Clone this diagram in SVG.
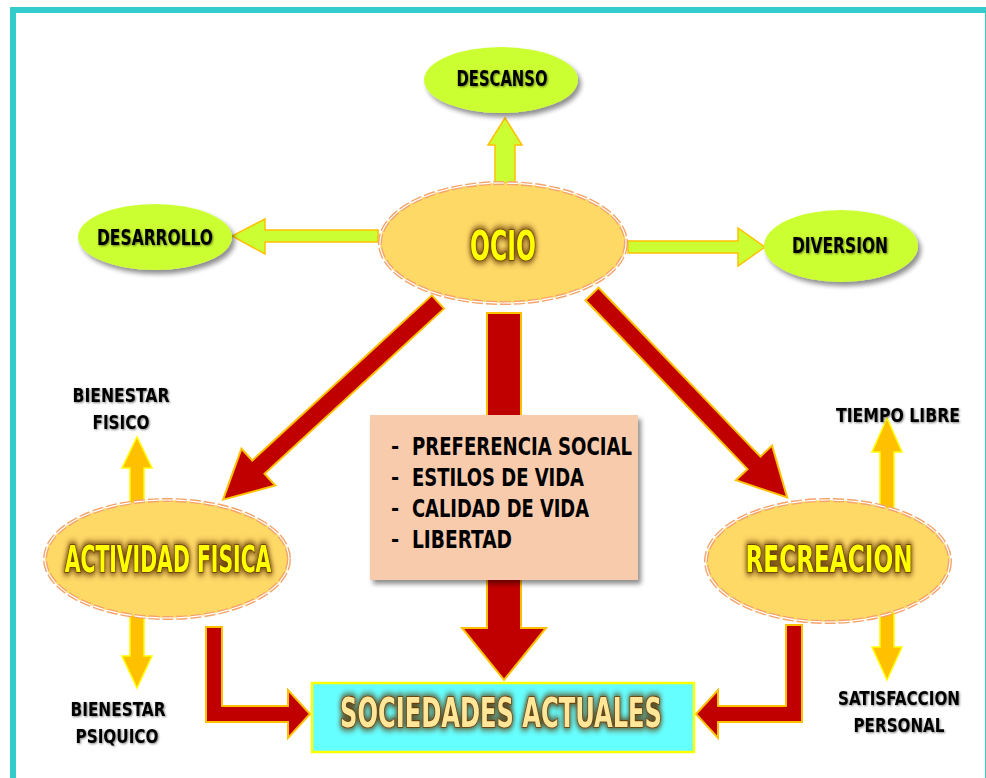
<svg xmlns="http://www.w3.org/2000/svg" width="986" height="778" viewBox="0 0 986 778">
<defs>
<style>
.lbl{font-family:"Liberation Sans Narrow","DejaVu Sans Condensed","Liberation Sans",sans-serif;font-weight:bold;fill:#000;text-anchor:middle}
.head{font-family:"Liberation Sans Narrow","DejaVu Sans Condensed","Liberation Sans",sans-serif;font-weight:bold;text-anchor:middle;stroke:#6B3A00;stroke-width:1.6;paint-order:stroke}
.list{font-family:"Liberation Sans Narrow","DejaVu Sans Condensed","Liberation Sans",sans-serif;font-weight:bold;fill:#000;font-size:25px}
.bul{font-family:"Liberation Sans Narrow","DejaVu Sans Condensed","Liberation Sans",sans-serif;font-weight:bold;fill:#000;font-size:22px}
.green{fill:#CCFF33}
.garrow{fill:#CCFF33;stroke:#FFC000;stroke-width:1.5}
.red{fill:#C00000;stroke:#FFC000;stroke-width:2;stroke-linejoin:miter}
.yel{fill:#FFC000;stroke:#FFFF00;stroke-width:1.5}
.ell{fill:#FFD966}
.dash1{fill:none;stroke:#F4A46A;stroke-width:4;stroke-dasharray:11 3}
.dash2{fill:none;stroke:#FFFFFF;stroke-width:1.2;stroke-dasharray:11 3}
</style>
<filter id="sh" x="-20%" y="-20%" width="150%" height="160%">
<feGaussianBlur in="SourceAlpha" stdDeviation="2.5"/>
<feOffset dx="3" dy="4" result="b"/>
<feComponentTransfer><feFuncA type="linear" slope="0.45"/></feComponentTransfer>
<feMerge><feMergeNode/><feMergeNode in="SourceGraphic"/></feMerge>
</filter>
<filter id="glow" x="-20%" y="-40%" width="140%" height="180%">
<feMorphology in="SourceAlpha" operator="dilate" radius="2" result="d"/>
<feGaussianBlur in="d" stdDeviation="3" result="g"/>
<feFlood flood-color="#5A3000" flood-opacity="0.85"/>
<feComposite in2="g" operator="in"/>
<feMerge><feMergeNode/><feMergeNode in="SourceGraphic"/></feMerge>
</filter>
<filter id="tsh" x="-10%" y="-30%" width="120%" height="160%">
<feGaussianBlur in="SourceAlpha" stdDeviation="1"/>
<feOffset dx="1" dy="1"/>
<feComponentTransfer><feFuncA type="linear" slope="0.5"/></feComponentTransfer>
<feMerge><feMergeNode/><feMergeNode in="SourceGraphic"/></feMerge>
</filter>
</defs>
<rect x="0" y="0" width="986" height="778" fill="#FFFFFF"/>
<rect x="13" y="10" width="975" height="800" fill="none" stroke="#33CCCC" stroke-width="6"/>

<g id="connectors">
<path class="garrow" d="M495,183 V145 H488 L505,118 L522,145 H515 V183 Z"/>
<path class="garrow" d="M378,230 H265 V219 L232,236 L265,254 V242 H378 Z"/>
<path class="garrow" d="M628,241 H738 V228 L765,247 L738,266 V253 H628 Z"/>
<path class="yel" d="M130,468 L122,468 L137,437 L152,468 L144,468 V656 L152,656 L137,688 L122,656 L130,656 Z"/>
<path class="yel" d="M880,452 L872,452 L887,418 L902,452 L894,452 V647 L902,647 L887,680 L872,647 L880,647 Z"/>
<path class="red" d="M487,313 H521 V628 H546 L504,680 L462,628 H487 Z"/>
<path class="red" transform="translate(438,302) rotate(137.4)" d="M0,-9 H244 V-25 L292,0 L244,25 V9 H0 Z"/>
<path class="red" transform="translate(592,294) rotate(46.2)" d="M0,-9 H234 V-25 L282,0 L234,25 V9 H0 Z"/>
<path class="red" d="M206,627 H222 V706 H288 V690 L310,714 L288,738 V722 H206 Z"/>
<path class="red" d="M802,625 H786 V706 H718 V690 L696,714 L718,738 V722 H802 Z"/>
</g>

<g id="descanso">
<ellipse class="green" cx="501" cy="80" rx="77" ry="33" filter="url(#sh)"/>
<text class="lbl" x="502" y="86" font-size="22" textLength="91" lengthAdjust="spacingAndGlyphs" filter="url(#tsh)">DESCANSO</text>
</g>
<g id="desarrollo">
<ellipse class="green" cx="155" cy="237" rx="77" ry="33" filter="url(#sh)"/>
<text class="lbl" x="155" y="245" font-size="22" textLength="116" lengthAdjust="spacingAndGlyphs" filter="url(#tsh)">DESARROLLO</text>
</g>
<g id="diversion">
<ellipse class="green" cx="841" cy="246" rx="77" ry="36" filter="url(#sh)"/>
<text class="lbl" x="840" y="253" font-size="22" textLength="96" lengthAdjust="spacingAndGlyphs" filter="url(#tsh)">DIVERSION</text>
</g>

<g id="ocio">
<ellipse class="ell" cx="503" cy="243" rx="123" ry="60"/>
<ellipse class="dash1" cx="503" cy="243" rx="123" ry="60"/>
<ellipse class="dash2" cx="503" cy="243" rx="123" ry="60"/>
<text class="head" transform="translate(503,260) scale(0.7,1)" x="0" y="0" font-size="40" fill="#FFFF00" textLength="94" lengthAdjust="spacingAndGlyphs" filter="url(#glow)">OCIO</text>
</g>

<g id="actividad">
<ellipse class="ell" cx="167" cy="559" rx="122" ry="59"/>
<ellipse class="dash1" cx="167" cy="559" rx="122" ry="59"/>
<ellipse class="dash2" cx="167" cy="559" rx="122" ry="59"/>
<text class="head" transform="translate(168,572) scale(0.65,1)" x="0" y="0" font-size="37" fill="#FFFF00" textLength="318" lengthAdjust="spacingAndGlyphs" filter="url(#glow)">ACTIVIDAD FISICA</text>
</g>

<g id="recreacion">
<ellipse class="ell" cx="828" cy="561" rx="122" ry="61"/>
<ellipse class="dash1" cx="828" cy="561" rx="122" ry="61"/>
<ellipse class="dash2" cx="828" cy="561" rx="122" ry="61"/>
<text class="head" transform="translate(829,572) scale(0.65,1)" x="0" y="0" font-size="37" fill="#FFFF00" textLength="257" lengthAdjust="spacingAndGlyphs" filter="url(#glow)">RECREACION</text>
</g>

<g id="lista">
<rect x="370" y="415" width="268" height="165" fill="#F8CBAD" filter="url(#sh)"/>
<text class="bul" x="391" y="454">-</text>
<text class="bul" x="391" y="485">-</text>
<text class="bul" x="391" y="516">-</text>
<text class="bul" x="391" y="547">-</text>
<text class="list" x="412" y="455" textLength="220" lengthAdjust="spacingAndGlyphs">PREFERENCIA SOCIAL</text>
<text class="list" x="412" y="486" textLength="172" lengthAdjust="spacingAndGlyphs">ESTILOS DE VIDA</text>
<text class="list" x="412" y="517" textLength="177" lengthAdjust="spacingAndGlyphs">CALIDAD DE VIDA</text>
<text class="list" x="412" y="548" textLength="100" lengthAdjust="spacingAndGlyphs">LIBERTAD</text>
</g>

<g id="sociedades">
<rect x="312" y="683" width="382" height="69" fill="#66FFFF" stroke="#FFFF00" stroke-width="2.5"/>
<text class="head" transform="translate(501,727) scale(0.7,1)" x="0" y="0" font-size="40" fill="#FFE699" textLength="460" lengthAdjust="spacingAndGlyphs" filter="url(#glow)">SOCIEDADES ACTUALES</text>
</g>

<g id="bienestar-fisico">
<text class="lbl" x="121" y="402" font-size="20" textLength="97" lengthAdjust="spacingAndGlyphs" filter="url(#tsh)">BIENESTAR</text>
<text class="lbl" x="121" y="429" font-size="20" textLength="57" lengthAdjust="spacingAndGlyphs" filter="url(#tsh)">FISICO</text>
</g>
<g id="bienestar-psiquico">
<text class="lbl" x="118" y="716" font-size="20" textLength="95" lengthAdjust="spacingAndGlyphs" filter="url(#tsh)">BIENESTAR</text>
<text class="lbl" x="117" y="743" font-size="20" textLength="83" lengthAdjust="spacingAndGlyphs" filter="url(#tsh)">PSIQUICO</text>
</g>
<g id="tiempo-libre">
<text class="lbl" x="898" y="422" font-size="20" textLength="124" lengthAdjust="spacingAndGlyphs" filter="url(#tsh)">TIEMPO LIBRE</text>
</g>
<g id="satisfaccion">
<text class="lbl" x="899" y="705" font-size="19" textLength="122" lengthAdjust="spacingAndGlyphs" filter="url(#tsh)">SATISFACCION</text>
<text class="lbl" x="899" y="732" font-size="20" textLength="91" lengthAdjust="spacingAndGlyphs" filter="url(#tsh)">PERSONAL</text>
</g>
</svg>
